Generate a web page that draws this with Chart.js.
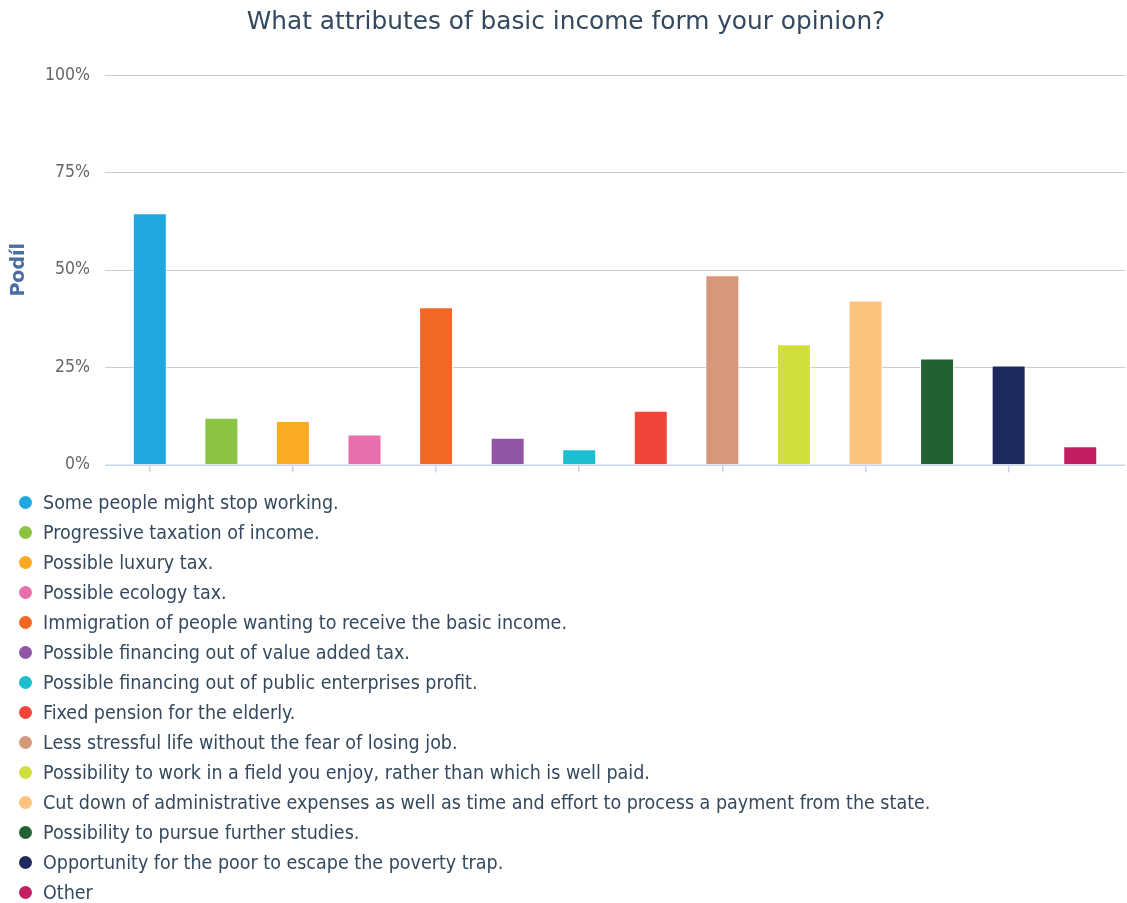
<!DOCTYPE html>
<html><head><meta charset="utf-8">
<script src="https://cdn.jsdelivr.net/npm/chart.js@4"></script>
<style>
html,body{margin:0;padding:0;background:#fff;}
#wrap{width:1127px;height:903px;position:relative;overflow:hidden;}
#chartBox{width:1127px;height:499px;position:absolute;left:0;top:0;}
#legend{list-style:none;margin:0;padding:0;position:absolute;left:0;top:488px;}
#legend li{height:30px;line-height:30px;position:relative;padding-left:43px;font-family:"DejaVu Sans Condensed","DejaVu Sans",sans-serif;font-size:19.5px;color:#34495e;white-space:nowrap;}
#legend li span{position:absolute;left:19px;top:8px;width:13px;height:13px;border-radius:50%;}
</style></head>
<body>
<div id="wrap"><div id="chartBox"><canvas id="c" width="1127" height="499"></canvas></div><ul id="legend"></ul></div>
<script>
const chartTitle = "What attributes of basic income form your opinion?";
const yAxisTitle = "Podíl";
const categories = [
  "Some people might stop working.",
  "Progressive taxation of income.",
  "Possible luxury tax.",
  "Possible ecology tax.",
  "Immigration of people wanting to receive the basic income.",
  "Possible financing out of value added tax.",
  "Possible financing out of public enterprises profit.",
  "Fixed pension for the elderly.",
  "Less stressful life without the fear of losing job.",
  "Possibility to work in a field you enjoy, rather than which is well paid.",
  "Cut down of administrative expenses as well as time and effort to process a payment from the state.",
  "Possibility to pursue further studies.",
  "Opportunity for the poor to escape the poverty trap.",
  "Other"
];
const values = [64.5, 12.0, 11.2, 7.7, 40.4, 6.9, 3.9, 13.8, 48.6, 30.9, 42.1, 27.2, 25.4, 4.7];
const colors = ["#1fa8e0", "#8bc443", "#fca923", "#e86fac", "#f06824", "#9155a3", "#1bbfcf",
                "#f04538", "#d6977a", "#d1de3e", "#fdc37e", "#226132", "#1f2a5c", "#c21f63"];
const yTickValues = [0, 25, 50, 75, 100];
const yTickSuffix = "%";

const datasets = categories.map((name, i) => ({
  label: name,
  data: categories.map((_, j) => (j === i ? values[i] : null)),
  backgroundColor: colors[i],
  borderColor: "#ffffff",
  borderWidth: 1,
  grouped: false,
  barPercentage: 0.475,
  categoryPercentage: 1
}));

const gridPlugin = {
  id: "extGrid",
  beforeDatasetsDraw(chart) {
    const {ctx, chartArea, scales} = chart;
    const ext = 9;
    ctx.save();
    ctx.strokeStyle = "#cccccc";
    ctx.lineWidth = 1;
    scales.y.ticks.forEach(t => {
      if (t.value === 0) return;
      const y = Math.round(scales.y.getPixelForValue(t.value)) + 0.5;
      ctx.beginPath();
      ctx.moveTo(chartArea.left - ext, y);
      ctx.lineTo(chartArea.right + ext, y);
      ctx.stroke();
    });
    ctx.restore();
  },
  afterDatasetsDraw(chart) {
    const {ctx, chartArea, scales} = chart;
    const ext = 9;
    ctx.save();
    ctx.strokeStyle = "#ccd6eb";
    ctx.lineWidth = 1.5;
    const y = scales.y.getPixelForValue(0) + 0.75;
    ctx.beginPath();
    ctx.moveTo(chartArea.left - ext, y);
    ctx.lineTo(chartArea.right + ext, y);
    ctx.stroke();
    ctx.restore();
  }
};

new Chart(document.getElementById("c"), {
  type: "bar",
  data: { labels: categories, datasets },
  plugins: [gridPlugin],
  options: {
    responsive: false,
    animation: false,
    devicePixelRatio: 1,
    layout: { padding: { left: 16, right: 11, top: 0, bottom: 0 } },
    plugins: {
      legend: { display: false },
      tooltip: { enabled: false },
      title: {
        display: true,
        text: chartTitle,
        color: "#34495e",
        font: { family: "'DejaVu Sans', sans-serif", size: 24.8, weight: "normal" },
        padding: { top: 7.3, bottom: 38 }
      }
    },
    scales: {
      x: {
        type: "category",
        offset: true,
        ticks: { display: false },
        border: { display: false },
        afterFit: s => { s.height = 8; },
        grid: {
          offset: false,
          drawOnChartArea: false,
          tickLength: 8,
          lineWidth: 1.5,
          color: c => (c.index % 2 === 0 ? "#ccd6eb" : "rgba(0,0,0,0)")
        }
      },
      y: {
        min: 0,
        max: 100,
        afterBuildTicks: s => { s.ticks = yTickValues.map(v => ({ value: v })); },
        afterFit: s => { s.width = 98; },
        border: { display: false },
        grid: { display: false, drawTicks: false },
        ticks: {
          padding: 24,
          color: "#666666",
          font: { family: "'DejaVu Sans Condensed', 'DejaVu Sans', sans-serif", size: 17.5 },
          callback: v => v + yTickSuffix
        },
        title: {
          display: true,
          text: yAxisTitle,
          color: "#4a6fa0",
          font: { family: "'DejaVu Sans', sans-serif", size: 19, weight: "bold" },
          padding: { top: -8.4, bottom: 0 }
        }
      }
    }
  }
});

const legend = document.getElementById("legend");
categories.forEach((name, i) => {
  const li = document.createElement("li");
  const dot = document.createElement("span");
  dot.style.background = colors[i];
  li.appendChild(dot);
  li.appendChild(document.createTextNode(name));
  legend.appendChild(li);
});
</script>
</body></html>
